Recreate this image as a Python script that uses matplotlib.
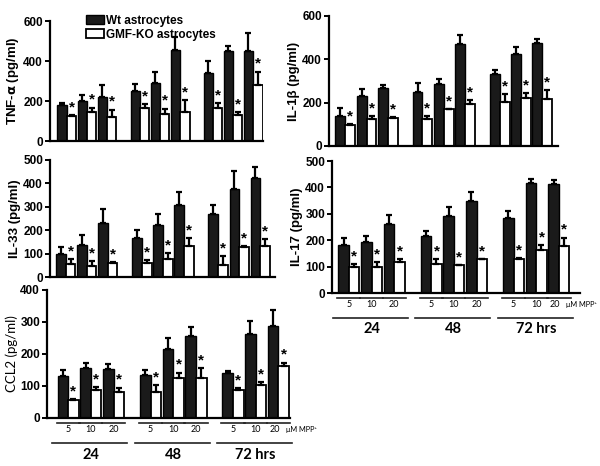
import matplotlib
matplotlib.use('Agg')
import matplotlib.pyplot as plt
import matplotlib.transforms as mtransforms
from matplotlib.patches import Patch

doses = ['5', '10', '20']
times = ['24', '48', '72 hrs']
legend_labels = ['Wt astrocytes', 'GMF-KO astrocytes']

tnf_wt = [182, 198, 220, 250, 290, 453, 338, 448, 450]
tnf_wt_err = [10, 30, 60, 35, 53, 67, 60, 27, 90]
tnf_ko = [127, 147, 122, 167, 137, 147, 167, 130, 282]
tnf_ko_err = [3, 20, 35, 18, 25, 56, 23, 13, 65]

il1_wt = [140, 229, 269, 249, 285, 469, 331, 425, 475]
il1_wt_err = [35, 33, 11, 40, 23, 42, 18, 30, 19]
il1_ko = [97, 126, 131, 126, 169, 194, 203, 222, 218]
il1_ko_err = [3, 14, 3, 14, 3, 18, 37, 24, 39]

il33_wt = [98, 136, 229, 166, 222, 307, 271, 378, 422]
il33_wt_err = [30, 44, 61, 33, 48, 58, 37, 77, 50]
il33_ko = [55, 48, 61, 60, 75, 134, 53, 129, 134]
il33_ko_err = [23, 19, 3, 11, 27, 31, 35, 3, 28]

il17_wt = [182, 195, 260, 217, 293, 350, 285, 417, 413]
il17_wt_err = [25, 22, 35, 18, 34, 34, 24, 14, 15]
il17_ko = [97, 99, 119, 110, 105, 127, 129, 163, 178]
il17_ko_err = [13, 19, 10, 19, 0, 0, 3, 19, 32]

ccl2_wt = [132, 155, 154, 133, 217, 257, 140, 264, 289]
ccl2_wt_err = [17, 17, 14, 16, 32, 26, 6, 39, 48]
ccl2_ko = [55, 89, 81, 81, 126, 126, 87, 102, 161]
ccl2_ko_err = [3, 8, 14, 23, 16, 29, 7, 10, 12]

P = 2.15   # pair spacing
G = 7.8    # group spacing
END = 2 * G + 2 * P + 2

fig = plt.figure(figsize=(6.0, 4.66), dpi=100)
W, H = 600.0, 466.0

def make_ax(l, r, t, b):
    return fig.add_axes([l / W, 1 - b / H, (r - l) / W, (b - t) / H])

def draw(ax, wt, wte, ko, koe, ymax, step, ylabel, xl, xr, label_kw=None):
    xs = [g * G + k * P for g in range(3) for k in range(3)]
    xw = [x + 0.5 for x in xs]
    xk = [x + 1.5 for x in xs]
    ax.bar(xw, wt, width=1.0, color='#1a1a1a', edgecolor='black', linewidth=1.0, zorder=2)
    ax.bar(xk, ko, width=1.0, color='white', edgecolor='black', linewidth=1.3, zorder=2)
    ax.errorbar(xw, wt, yerr=[[0] * 9, wte], fmt='none', ecolor='black',
                elinewidth=1.6, capsize=2.5, capthick=1.6, zorder=3)
    ax.errorbar(xk, ko, yerr=[[0] * 9, koe], fmt='none', ecolor='black',
                elinewidth=1.6, capsize=2.5, capthick=1.6, zorder=3)
    for x, v, e in zip(xk, ko, koe):
        ax.annotate('*', (x, v + e), xytext=(0, 0.5), textcoords='offset points',
                    ha='center', va='bottom', fontsize=11, fontweight='bold',
                    family='Liberation Sans')
    ax.set_xlim(-xl, END + xr)
    ax.set_ylim(0, ymax)
    ax.set_yticks(range(0, ymax + 1, step))
    ax.set_xticks([])
    for s in ['top', 'right']:
        ax.spines[s].set_visible(False)
    for s in ['left', 'bottom']:
        ax.spines[s].set_linewidth(1.6)
    ax.tick_params(axis='y', length=3.5, width=1.4, labelsize=8.5, pad=1.5)
    for lab in ax.get_yticklabels():
        lab.set_fontweight('bold')
        lab.set_family('Liberation Sans')
    kw = dict(fontsize=9.5, fontweight='bold', family='Liberation Sans')
    if label_kw:
        kw.update(label_kw)
    ax.set_ylabel(ylabel, labelpad=1.5, **kw)

def xannot(ax, y_ul, y_num, y_long, y_grp):
    tr = mtransforms.blended_transform_factory(ax.transData, ax.transAxes)
    for g in range(3):
        for k in range(3):
            x0 = g * G + k * P
            ax.plot([x0 - 0.1, x0 + 2.1], [y_ul, y_ul], transform=tr, color='#222222',
                    lw=1.2, clip_on=False)
            xc = x0 + (0.65 if (g == 2 and k == 2) else 1.0)
            ax.text(xc, y_num, doses[k], transform=tr, ha='center', va='center',
                    fontsize=6.5, family='Lato')
        ax.plot([g * G - 0.5, g * G + 2 * P + 2.3], [y_long, y_long], transform=tr,
                color='#222222', lw=1.2, clip_on=False)
        ax.text(g * G + P + 1, y_grp, times[g], transform=tr, ha='center', va='center',
                fontsize=10.5, fontweight='bold', family='Lato')
    ax.text(END - 0.3, y_num, 'μM MPP⁺', transform=tr, ha='left', va='center',
            fontsize=5.3, family=['Lato', 'DejaVu Sans'])

ax1 = make_ax(50, 263, 21, 141)
draw(ax1, tnf_wt, tnf_wt_err, tnf_ko, tnf_ko_err, 600, 200,
     'TNF-$\\mathbf{\\alpha}$ (pg/ml)', 0.8, 0.05)
ax2 = make_ax(329, 558, 16, 146)
draw(ax2, il1_wt, il1_wt_err, il1_ko, il1_ko_err, 600, 200, 'IL-1β (pg/ml)', 0.65, 0.6)
ax3 = make_ax(50, 275, 160, 277)
draw(ax3, il33_wt, il33_wt_err, il33_ko, il33_ko_err, 500, 100, 'IL-33 (pg/ml)', 0.6, 0.5)
ax4 = make_ax(332, 580, 161, 293)
draw(ax4, il17_wt, il17_wt_err, il17_ko, il17_ko_err, 500, 100, 'IL-17 (pg/ml)', 0.6, 1.0)
ax5 = make_ax(47, 290, 290, 418)
draw(ax5, ccl2_wt, ccl2_wt_err, ccl2_ko, ccl2_ko_err, 400, 100, 'CCL2 (pg/ml)', 1.0, 0.1,
     label_kw=dict(fontweight='normal', family='Lato', fontsize=9.5))

xannot(ax4, -0.035, -0.09, -0.19, -0.275)
xannot(ax5, -0.04, -0.088, -0.195, -0.29)

handles = [Patch(facecolor='#1a1a1a', edgecolor='black', linewidth=1.0),
           Patch(facecolor='white', edgecolor='black', linewidth=1.3)]
fig.legend(handles, legend_labels, loc='upper left', bbox_to_anchor=(80 / W, 1 - 9 / H),
           bbox_transform=fig.transFigure, frameon=False, handlelength=1.5,
           handleheight=0.75, handletextpad=0.2, labelspacing=0.15, borderpad=0,
           prop=dict(family='Liberation Sans', weight='bold', size=8.5))

fig.savefig('out.png', dpi=100)
